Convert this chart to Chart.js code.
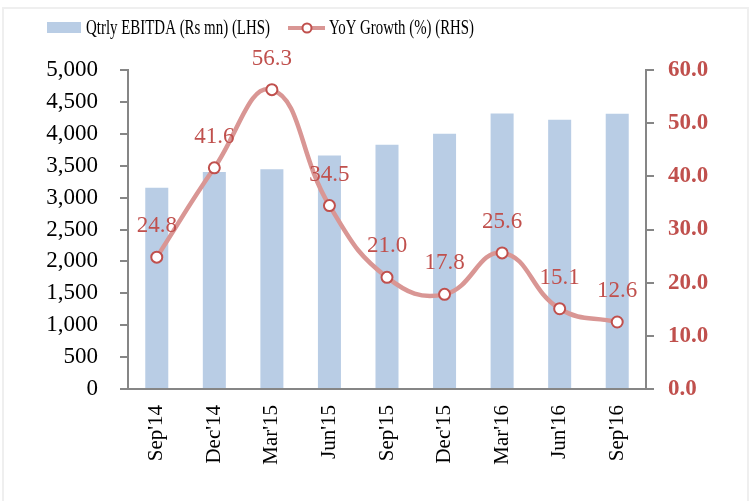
<!DOCTYPE html>
<html>
<head>
<meta charset="utf-8">
<script src="https://cdn.jsdelivr.net/npm/chart.js@4.4.1/dist/chart.umd.min.js"></script>
<style>
  html, body { margin: 0; padding: 0; background: #ffffff; }
  #frame { position: absolute; left: 2px; top: 7px; width: 743px; height: 500px;
           border-top: 2px solid #efefef; border-left: 2px solid #efefef; border-right: 2px solid #efefef; }
  #wrap { position: absolute; left: 0; top: 0; width: 749px; height: 501px; }
</style>
</head>
<body>
<div id="frame"></div>
<div id="wrap"><canvas id="c" width="749" height="501"></canvas></div>
<script>
const categories = ["Sep'14", "Dec'14", "Mar'15", "Jun'15", "Sep'15", "Dec'15", "Mar'16", "Jun'16", "Sep'16"];
const ebitda = [3155, 3400, 3445, 3660, 3830, 4000, 4320, 4220, 4315];
const yoyGrowth = [24.8, 41.6, 56.3, 34.5, 21.0, 17.8, 25.6, 15.1, 12.6];
const leftTicks = [0, 500, 1000, 1500, 2000, 2500, 3000, 3500, 4000, 4500, 5000];
const rightTicks = [0, 10, 20, 30, 40, 50, 60];
const seriesNames = ["Qtrly EBITDA (Rs mn) (LHS)", "YoY Growth (%) (RHS)"];

const FONT = "'Liberation Serif', 'Times New Roman', serif";
const BAR = '#b9cde5';
const LINE = '#d99694';
const RED = '#c0504d';
const AXIS = '#868686';

function fitText(ctx, text, x, y, width) {
  const w = ctx.measureText(text).width;
  ctx.save();
  ctx.translate(x, y);
  ctx.scale(width / w, 1);
  ctx.fillText(text, 0, 0);
  ctx.restore();
}

const legendPlugin = {
  id: 'customLegend',
  afterDraw(chart) {
    const ctx = chart.ctx;
    ctx.save();
    ctx.fillStyle = BAR;
    ctx.fillRect(47, 22, 34, 11);
    ctx.font = '21px ' + FONT;
    ctx.fillStyle = '#000';
    ctx.textBaseline = 'middle';
    ctx.textAlign = 'left';
    fitText(ctx, seriesNames[0], 86, 28, 184);
    ctx.strokeStyle = LINE;
    ctx.lineWidth = 4;
    ctx.beginPath(); ctx.moveTo(288, 28); ctx.lineTo(325, 28); ctx.stroke();
    ctx.beginPath(); ctx.arc(307, 28, 4.5, 0, Math.PI * 2);
    ctx.fillStyle = '#fff'; ctx.fill();
    ctx.strokeStyle = RED; ctx.lineWidth = 2; ctx.stroke();
    ctx.fillStyle = '#000';
    fitText(ctx, seriesNames[1], 329, 28, 145);
    ctx.restore();
  }
};

const labelPlugin = {
  id: 'dataLabels',
  afterDatasetsDraw(chart) {
    const meta = chart.getDatasetMeta(1);
    const ctx = chart.ctx;
    ctx.save();
    ctx.font = '23px ' + FONT;
    ctx.fillStyle = RED;
    ctx.textAlign = 'center';
    ctx.textBaseline = 'middle';
    meta.data.forEach((pt, i) => {
      ctx.fillText(yoyGrowth[i].toFixed(1), pt.x, pt.y - 31);
    });
    ctx.restore();
  }
};

new Chart(document.getElementById('c'), {
  data: {
    labels: categories,
    datasets: [
      {
        type: 'bar', label: seriesNames[0], data: ebitda, yAxisID: 'y',
        backgroundColor: BAR, barPercentage: 0.4, categoryPercentage: 1.0, order: 2
      },
      {
        type: 'line', label: seriesNames[1], data: yoyGrowth, yAxisID: 'y1',
        borderColor: LINE, borderWidth: 4.5, tension: 0.45,
        pointRadius: 5.5, pointBorderWidth: 2, pointBackgroundColor: '#fff', pointBorderColor: RED,
        order: 1
      }
    ]
  },
  options: {
    responsive: false, animation: false,
    layout: { padding: { top: 70, left: 0, right: 0, bottom: 0 } },
    plugins: { legend: { display: false }, tooltip: { enabled: false } },
    scales: {
      x: {
        offset: true,
        grid: { display: true, drawOnChartArea: false, drawTicks: false },
        border: { display: true, color: AXIS, width: 2 },
        ticks: { color: '#000', font: { family: FONT, size: 21 }, minRotation: 90, maxRotation: 90, padding: 16 },
        afterFit(s) { s.height = 112; }
      },
      y: {
        position: 'left', min: 0, max: 5000,
        afterBuildTicks(s) { s.ticks = leftTicks.map(v => ({ value: v })); },
        grid: { drawOnChartArea: false, drawTicks: true, tickLength: 8, color: AXIS, lineWidth: 2 },
        border: { display: true, color: AXIS, width: 2 },
        ticks: { color: '#000', font: { family: FONT, size: 23 }, padding: 22,
                 callback: v => v.toLocaleString('en-US') },
        afterFit(s) { s.width = 128; }
      },
      y1: {
        position: 'right', min: 0, max: 60,
        afterBuildTicks(s) { s.ticks = rightTicks.map(v => ({ value: v })); },
        grid: { drawOnChartArea: false, drawTicks: true, tickLength: 8, color: AXIS, lineWidth: 2 },
        border: { display: true, color: AXIS, width: 2 },
        ticks: { color: RED, font: { family: FONT, size: 23, weight: 'bold' }, padding: 14,
                 callback: v => Number(v).toFixed(1) },
        afterFit(s) { s.width = 103; }
      }
    }
  },
  plugins: [legendPlugin, labelPlugin]
});
</script>
</body>
</html>
